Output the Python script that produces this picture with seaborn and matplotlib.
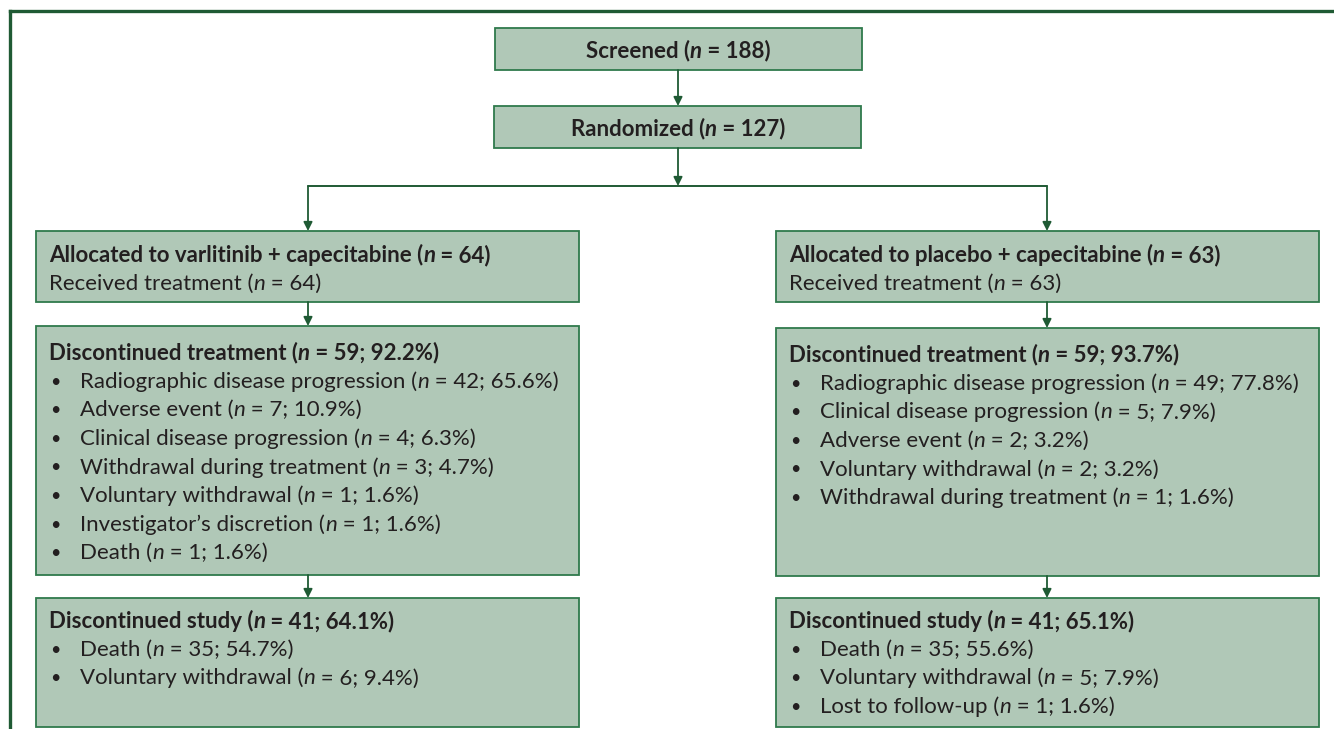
import matplotlib
matplotlib.use("Agg")
import matplotlib.pyplot as plt
import seaborn as sns

# CONSORT flow numbers
screened_n = 188
randomized_n = 127
arm_names = ["varlitinib + capecitabine", "placebo + capecitabine"]
arm_n = [64, 63]
received_n = [64, 63]

disc_treat_n = [59, 59]
disc_treat_pct = [92.2, 93.7]
disc_treat_reasons = [
    ["Radiographic disease progression", "Adverse event", "Clinical disease progression",
     "Withdrawal during treatment", "Voluntary withdrawal", "Investigator\u2019s discretion", "Death"],
    ["Radiographic disease progression", "Clinical disease progression", "Adverse event",
     "Voluntary withdrawal", "Withdrawal during treatment"],
]
disc_treat_counts = [[42, 7, 4, 3, 1, 1, 1], [49, 5, 2, 2, 1]]
disc_treat_pcts = [[65.6, 10.9, 6.3, 4.7, 1.6, 1.6, 1.6], [77.8, 7.9, 3.2, 3.2, 1.6]]

disc_study_n = [41, 41]
disc_study_pct = [64.1, 65.1]
disc_study_reasons = [["Death", "Voluntary withdrawal"],
                      ["Death", "Voluntary withdrawal", "Lost to follow-up"]]
disc_study_counts = [[35, 6], [35, 5, 1]]
disc_study_pcts = [[54.7, 9.4], [55.6, 7.9, 1.6]]

sns.set_theme(style="white")
plt.rcParams["font.family"] = ["Lato", "DejaVu Sans"]

FILL = "#b0c8b7"
EDGE = "#2f7a4c"
DARK = "#1f5a34"
TXT = "#231f20"
FS = 16
LINE = 28.6
DY = 2  # nudge text down so glyphs sit centred like the original

fig = plt.figure(figsize=(13.34, 7.29), dpi=100)
ax = fig.add_axes([0, 0, 1, 1])
ax.set_xlim(0, 1334)
ax.set_ylim(729, 0)
ax.axis("off")


def rich(x, y, runs, bold=False, center=False):
    w = "bold" if bold else "normal"
    first = prev = None
    for s, italic in runs:
        st = "italic" if italic else "normal"
        if prev is None:
            prev = ax.text(x, y + DY, s, fontsize=FS, fontweight=w, fontstyle=st,
                           color=TXT, ha="left", va="center")
            first = prev
        else:
            prev = ax.annotate(s, xy=(1, 0), xycoords=prev, fontsize=FS, fontweight=w,
                               fontstyle=st, color=TXT, ha="left", va="bottom")
    if center:
        fig.canvas.draw()
        r = fig.canvas.get_renderer()
        x0 = first.get_window_extent(r).x0
        x1 = prev.get_window_extent(r).x1
        first.set_x(x - (x1 - x0) / 2)


def box(x0, y0, x1, y1):
    ax.add_patch(plt.Rectangle((x0, y0), x1 - x0, y1 - y0, facecolor=FILL,
                               edgecolor=EDGE, lw=1.3, zorder=1))


def arrow(x, y0, y1):
    ax.annotate("", xy=(x, y1), xytext=(x, y0),
                arrowprops=dict(arrowstyle="-|>", color=DARK, lw=1.3,
                                mutation_scale=13, shrinkA=0, shrinkB=0))


def bullet(x, y):
    ax.text(x, y + DY, "\u2022", fontsize=FS - 3, color=TXT, ha="left", va="center")


def nruns(label, n, pct=None):
    tail = f" = {n})" if pct is None else f" = {n}; {pct}%)"
    return [(label + " (", False), ("n", True), (tail, False)]


# outer frame
ax.plot([10, 10], [729, 11], color=DARK, lw=2.4, solid_capstyle="projecting")
ax.plot([10, 1334], [11, 11], color=DARK, lw=2.4, solid_capstyle="projecting")

# top boxes
box(495, 28, 862, 70)
box(494, 106, 861, 148)
arrow(678, 70, 106)
arrow(678, 148, 186)
ax.plot([308, 1047], [186, 186], color=DARK, lw=1.4)

arm_x = [36, 776]
arm_cx = [308, 1047]
box2_bottom = [575, 576]
box2_top = [326, 328]

for i in range(2):
    bx = arm_x[i]
    cx = arm_cx[i]
    arrow(cx, 186, 231)
    box(bx, 231, bx + 543, 302)
    arrow(cx, 302, box2_top[i])
    box(bx, box2_top[i], bx + 543, box2_bottom[i])
    arrow(cx, box2_bottom[i], 598)
    box(bx, 598, bx + 543, 727)

    rich(bx + 13, 253, nruns("Allocated to " + arm_names[i], arm_n[i]), bold=True)
    rich(bx + 13, 282, nruns("Received treatment", received_n[i]))

    y = box2_top[i] + 25
    rich(bx + 13, y, nruns("Discontinued treatment", disc_treat_n[i], disc_treat_pct[i]), bold=True)
    for j, reason in enumerate(disc_treat_reasons[i]):
        yy = y + (j + 1) * LINE
        bullet(bx + 14, yy)
        rich(bx + 44, yy, nruns(reason, disc_treat_counts[i][j], disc_treat_pcts[i][j]))

    y = 619
    rich(bx + 13, y, nruns("Discontinued study", disc_study_n[i], disc_study_pct[i]), bold=True)
    for j, reason in enumerate(disc_study_reasons[i]):
        yy = y + (j + 1) * LINE
        bullet(bx + 14, yy)
        rich(bx + 44, yy, nruns(reason, disc_study_counts[i][j], disc_study_pcts[i][j]))

rich(678, 49, nruns("Screened", screened_n), bold=True, center=True)
rich(678, 127, nruns("Randomized", randomized_n), bold=True, center=True)

fig.savefig("out.png", dpi=100)
